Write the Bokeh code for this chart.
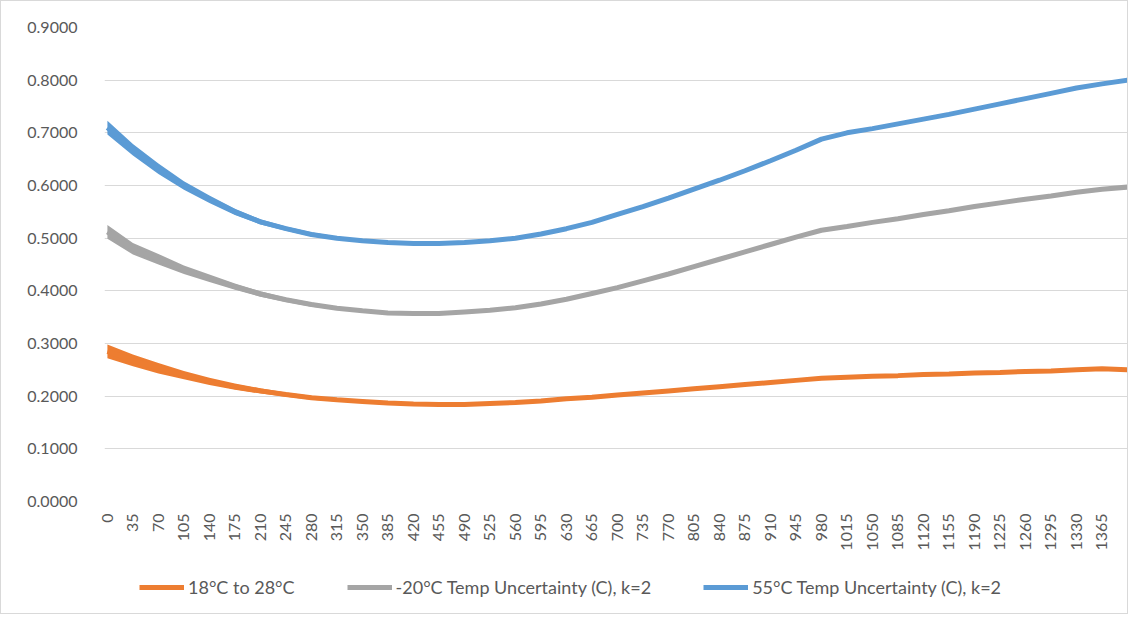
import math
from bokeh.plotting import figure
from bokeh.layouts import column
from bokeh.models import Range1d, FixedTicker, PrintfTickFormatter, Legend, LegendItem, ColumnDataSource
from bokeh.embed import file_html
from bokeh.resources import INLINE

# ---- data ----
x_vals = [0, 35, 70, 105, 140, 175, 210, 245, 280, 315, 350, 385, 420, 455, 490, 525, 560, 595,
          630, 665, 700, 735, 770, 805, 840, 875, 910, 945, 980, 1015, 1050, 1085, 1120, 1155,
          1190, 1225, 1260, 1295, 1330, 1365, 1400]

series_labels = ["18°C to 28°C",
                 "-20°C Temp Uncertainty (C), k=2",
                 "55°C Temp Uncertainty (C), k=2"]

orange_vals = [0.285, 0.268, 0.253, 0.240, 0.228, 0.218, 0.210, 0.203, 0.197, 0.193, 0.190, 0.187,
               0.185, 0.184, 0.184, 0.186, 0.188, 0.191, 0.195, 0.198, 0.202, 0.206, 0.210, 0.214,
               0.218, 0.222, 0.226, 0.230, 0.234, 0.236, 0.238, 0.239, 0.241, 0.242, 0.244, 0.245,
               0.247, 0.248, 0.250, 0.252, 0.250]

gray_vals = [0.512, 0.480, 0.460, 0.440, 0.424, 0.408, 0.394, 0.383, 0.374, 0.367, 0.362, 0.358,
             0.357, 0.357, 0.360, 0.363, 0.368, 0.375, 0.384, 0.395, 0.406, 0.419, 0.432, 0.446,
             0.460, 0.474, 0.488, 0.502, 0.515, 0.522, 0.530, 0.537, 0.545, 0.552, 0.560, 0.567,
             0.574, 0.580, 0.587, 0.593, 0.597]

blue_vals = [0.710, 0.668, 0.632, 0.600, 0.574, 0.550, 0.531, 0.518, 0.507, 0.500, 0.495, 0.492,
             0.490, 0.490, 0.492, 0.495, 0.500, 0.508, 0.518, 0.530, 0.545, 0.560, 0.576, 0.593,
             0.610, 0.628, 0.647, 0.667, 0.688, 0.700, 0.708, 0.717, 0.726, 0.735, 0.745, 0.755,
             0.765, 0.775, 0.785, 0.793, 0.800]

# half-height of the ripple band seen around each line
ripple = [0.013, 0.011, 0.010, 0.008, 0.007, 0.006, 0.005, 0.004, 0.004, 0.003, 0.003, 0.002,
          0.002, 0.002, 0.002, 0.002, 0.002, 0.002, 0.002, 0.002, 0.002, 0.002, 0.002, 0.002,
          0.002, 0.002, 0.002, 0.003, 0.003, 0.003, 0.003, 0.003, 0.003, 0.003, 0.003, 0.003,
          0.003, 0.003, 0.003, 0.003, 0.003]

y_ticks = [0.0, 0.1, 0.2, 0.3, 0.4, 0.5, 0.6, 0.7, 0.8, 0.9]
x_ticks = list(range(0, 1366, 35))

colors = ["#ED7D31", "#A5A5A5", "#5B9BD5"]
FONT = "Lato"
TXT = "#595959"

p = figure(width=1126, height=567, output_backend="svg", toolbar_location=None,
           x_range=Range1d(-4, 1400), y_range=Range1d(0, 0.9),
           min_border_left=103, min_border_right=0, min_border_top=26, min_border_bottom=67)

p.outline_line_color = None
p.xgrid.grid_line_color = None
p.ygrid.grid_line_color = "#d9d9d9"
p.ygrid.grid_line_width = 1

p.yaxis.ticker = FixedTicker(ticks=y_ticks)
p.yaxis.formatter = PrintfTickFormatter(format="%.4f")
p.xaxis.ticker = FixedTicker(ticks=x_ticks)
p.xaxis.major_label_orientation = math.pi / 2
for ax in (p.xaxis, p.yaxis):
    ax.axis_line_color = None
    ax.major_tick_line_color = None
    ax.minor_tick_line_color = None
    ax.major_label_text_font = FONT
    ax.major_label_text_font_size = "16px"
    ax.major_label_text_color = TXT
p.yaxis.major_label_standoff = 21
p.xaxis.major_label_standoff = 6

# legend lives in a thin strip below the chart
leg = figure(width=1126, height=45, output_backend="svg", toolbar_location=None,
             x_range=Range1d(0, 1), y_range=Range1d(0, 1),
             min_border=0)
leg.outline_line_color = None
leg.axis.visible = False
leg.grid.visible = False

items = []
for vals, col, lab in zip([orange_vals, gray_vals, blue_vals], colors, series_labels):
    lo = [v - r for v, r in zip(vals, ripple)]
    hi = [v + r for v, r in zip(vals, ripple)]
    src = ColumnDataSource(dict(x=x_vals, y=vals, lo=lo, hi=hi))
    p.varea(x="x", y1="lo", y2="hi", source=src, fill_color=col, fill_alpha=1.0)
    p.line(x="x", y="y", source=src, line_color=col, line_width=5)
    # off-screen copy of the series, only used to draw the legend swatch
    lr = leg.line(x=[-10, -9], y=[-10, -10], line_color=col, line_width=5)
    items.append(LegendItem(label=lab, renderers=[lr]))

legend = Legend(items=items, orientation="horizontal", location=(35, 15),
                glyph_width=45, glyph_height=20, label_standoff=4, spacing=52,
                label_text_font=FONT, label_text_font_size="18px", label_text_color=TXT,
                border_line_color=None, background_fill_alpha=0,
                margin=0, padding=4)
leg.add_layout(legend, "center")

layout = column(p, leg, spacing=0,
                styles={"border": "1px solid #d9d9d9"})

open("out.html", "w").write(file_html(layout, INLINE))
